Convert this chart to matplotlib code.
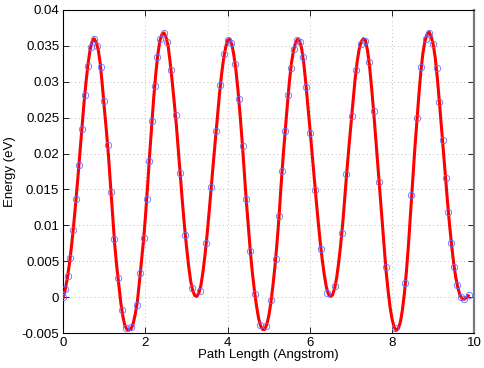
import matplotlib
matplotlib.use("Agg")
import matplotlib.pyplot as plt
from matplotlib.ticker import FuncFormatter

plt.rcParams['font.family'] = ['Liberation Sans', 'DejaVu Sans']
plt.rcParams['axes.unicode_minus'] = False

# Sampled energies (blue circles)
point_x = [0.00, 0.05, 0.11, 0.17, 0.24, 0.31, 0.38, 0.45, 0.52, 0.60,
           0.67, 0.75, 0.83, 0.91, 0.98, 1.08, 1.16, 1.24, 1.33, 1.42,
           1.53, 1.65, 1.79, 1.87, 1.96, 2.03, 2.09, 2.16, 2.22, 2.29,
           2.36, 2.44, 2.53, 2.62, 2.73, 2.84, 2.97, 3.14, 3.33, 3.48,
           3.60, 3.72, 3.82, 3.92, 4.01, 4.09, 4.18, 4.27, 4.36, 4.45,
           4.55, 4.66, 4.79, 4.93, 5.06, 5.17, 5.25, 5.32, 5.40, 5.47,
           5.53, 5.61, 5.69, 5.76, 5.83, 5.91, 6.01, 6.13, 6.27, 6.42,
           6.62, 6.78, 6.89, 7.02, 7.12, 7.24, 7.33, 7.44, 7.55, 7.68,
           7.84, 8.07, 8.32, 8.47, 8.61, 8.71, 8.82, 8.90, 9.00, 9.08,
           9.15, 9.23, 9.30, 9.37, 9.44, 9.51, 9.58, 9.67, 9.76, 9.86]
point_y = [0.0000, 0.0011, 0.0030, 0.0055, 0.0093, 0.0136, 0.0184, 0.0234, 0.0282, 0.0322,
           0.0349, 0.0359, 0.0350, 0.0320, 0.0273, 0.0212, 0.0146, 0.0081, 0.0027, -0.0018,
           -0.0043, -0.0042, -0.0011, 0.0033, 0.0082, 0.0136, 0.0190, 0.0245, 0.0294, 0.0334,
           0.0360, 0.0368, 0.0355, 0.0317, 0.0253, 0.0173, 0.0086, 0.0013, 0.0009, 0.0076,
           0.0154, 0.0231, 0.0295, 0.0338, 0.0358, 0.0354, 0.0325, 0.0276, 0.0210, 0.0136,
           0.0064, 0.0005, -0.0039, -0.0040, -0.0004, 0.0053, 0.0113, 0.0176, 0.0232, 0.0281,
           0.0319, 0.0345, 0.0358, 0.0356, 0.0335, 0.0292, 0.0229, 0.0149, 0.0067, 0.0006,
           0.0016, 0.0090, 0.0171, 0.0252, 0.0316, 0.0352, 0.0357, 0.0327, 0.0259, 0.0161,
           0.0042, -0.0043, 0.0019, 0.0142, 0.0249, 0.0321, 0.0360, 0.0368, 0.0352, 0.0319,
           0.0272, 0.0219, 0.0166, 0.0118, 0.0076, 0.0042, 0.0017, 0.0000, -0.0003, 0.0003]

# Fitted curve (red line), read every 0.05 Angstrom
curve_x = [0.00, 0.05, 0.10, 0.15, 0.20, 0.25, 0.30, 0.35, 0.40, 0.45, 0.50, 0.55, 0.60, 0.65, 0.70, 0.75,
           0.80, 0.85, 0.90, 0.95, 1.00, 1.05, 1.10, 1.15, 1.20, 1.25, 1.30, 1.35, 1.40, 1.45, 1.50, 1.55, 1.60,
           1.65, 1.70, 1.75, 1.80, 1.85, 1.90, 1.95, 2.00, 2.05, 2.10, 2.15, 2.20, 2.25, 2.30, 2.35, 2.40, 2.45,
           2.50, 2.55, 2.60, 2.65, 2.70, 2.75, 2.80, 2.85, 2.90, 2.95, 3.00, 3.05, 3.10, 3.15, 3.20, 3.25,
           3.30, 3.35, 3.40, 3.45, 3.50, 3.55, 3.60, 3.65, 3.70, 3.75, 3.80, 3.85, 3.90, 3.95, 4.00,
           4.05, 4.10, 4.15, 4.20, 4.25, 4.30, 4.35, 4.40, 4.45, 4.50, 4.55, 4.60, 4.65, 4.70, 4.75, 4.80, 4.85, 4.90,
           4.95, 5.00, 5.05, 5.10, 5.15, 5.20, 5.25, 5.30, 5.35, 5.40, 5.45, 5.50, 5.55, 5.60, 5.65, 5.70,
           5.75, 5.80, 5.85, 5.90, 5.95, 6.00, 6.05, 6.10, 6.15, 6.20, 6.25, 6.30, 6.35, 6.40, 6.45, 6.50,
           6.55, 6.60, 6.65, 6.70, 6.75, 6.80, 6.85, 6.90, 6.95, 7.00, 7.05, 7.10, 7.15, 7.20, 7.25, 7.30,
           7.35, 7.40, 7.45, 7.50, 7.55, 7.60, 7.65, 7.70, 7.75, 7.80, 7.85, 7.90, 7.95, 8.00, 8.05, 8.10,
           8.15, 8.20, 8.25, 8.30, 8.35, 8.40, 8.45, 8.50, 8.55, 8.60, 8.65, 8.70, 8.75, 8.80, 8.85, 8.90,
           8.95, 9.00, 9.05, 9.10, 9.15, 9.20, 9.25, 9.30, 9.35, 9.40, 9.45, 9.50, 9.55, 9.60, 9.65, 9.70,
           9.75, 9.80, 9.85]
curve_y = [0.0000, 0.0011, 0.0027, 0.0047, 0.0071, 0.0099, 0.0130, 0.0163, 0.0198, 0.0234, 0.0268, 0.0298,
           0.0324, 0.0344, 0.0356, 0.0360,
           0.0355, 0.0345, 0.0325, 0.0295, 0.0262, 0.0231, 0.0196, 0.0155, 0.0113, 0.0074, 0.0043, 0.0017,
           -0.0008, -0.0027, -0.0040, -0.0045, -0.0046,
           -0.0044, -0.0037, -0.0024, -0.0007, 0.0020, 0.0049, 0.0078, 0.0113, 0.0154, 0.0198, 0.0237,
           0.0278, 0.0311, 0.0338, 0.0357, 0.0366, 0.0368,
           0.0362, 0.0350, 0.0327, 0.0300, 0.0271, 0.0240, 0.0203, 0.0166, 0.0131, 0.0098, 0.0069, 0.0043,
           0.0022, 0.0009, 0.0002, 0.0001,
           0.0006, 0.0017, 0.0036, 0.0060, 0.0088, 0.0120, 0.0154, 0.0187, 0.0219, 0.0251, 0.0283, 0.0310,
           0.0332, 0.0348, 0.0358,
           0.0359, 0.0352, 0.0337, 0.0316, 0.0288, 0.0255, 0.0218, 0.0177, 0.0136, 0.0099, 0.0064, 0.0034,
           0.0009, -0.0012, -0.0029, -0.0040, -0.0045, -0.0045,
           -0.0038, -0.0026, -0.0008, 0.0016, 0.0043, 0.0076, 0.0113, 0.0157, 0.0197, 0.0232, 0.0267, 0.0300,
           0.0326, 0.0343, 0.0354, 0.0359,
           0.0357, 0.0346, 0.0326, 0.0298, 0.0267, 0.0235, 0.0202, 0.0169, 0.0137, 0.0106, 0.0077, 0.0052,
           0.0031, 0.0014, 0.0004, 0.0001,
           0.0003, 0.0012, 0.0027, 0.0048, 0.0074, 0.0104, 0.0140, 0.0176, 0.0210, 0.0242, 0.0273, 0.0304,
           0.0328, 0.0346, 0.0356, 0.0360,
           0.0358, 0.0344, 0.0322, 0.0292, 0.0259, 0.0222, 0.0184, 0.0146, 0.0109, 0.0072, 0.0038, 0.0010,
           -0.0014, -0.0031, -0.0042, -0.0046,
           -0.0044, -0.0035, -0.0018, 0.0006, 0.0037, 0.0075, 0.0119, 0.0163, 0.0205, 0.0244, 0.0281, 0.0315,
           0.0340, 0.0357, 0.0366, 0.0369,
           0.0363, 0.0352, 0.0333, 0.0305, 0.0272, 0.0237, 0.0203, 0.0166, 0.0131, 0.0099, 0.0071, 0.0046,
           0.0027, 0.0013, 0.0003, -0.0002, -0.0003, -0.0001, 0.0002]

x_ticks = [0, 2, 4, 6, 8, 10]
y_ticks = [-0.005, 0, 0.005, 0.01, 0.015, 0.02, 0.025, 0.03, 0.035, 0.04]
x_label = "Path Length (Angstrom)"
y_label = "Energy (eV)"

fig = plt.figure(figsize=(4.85, 3.68), dpi=100)
ax = fig.add_axes([0.1305, 0.095, 0.8475, 0.878])

ax.plot(curve_x, curve_y, color='#ff0000', linewidth=2.2, zorder=3)
ax.plot(point_x, point_y, linestyle='none', marker='o', markersize=4.6,
        markerfacecolor='none', markeredgecolor='#6b6bff', markeredgewidth=0.6, zorder=4)

ax.set_xlim(0, 10)
ax.set_ylim(-0.005, 0.04)
ax.set_xticks(x_ticks)
ax.set_yticks(y_ticks)
ax.yaxis.set_major_formatter(FuncFormatter(lambda v, p: ('%g' % round(v, 4))))
ax.xaxis.set_major_formatter(FuncFormatter(lambda v, p: ('%g' % v)))

ax.grid(True, color='#bdbdbd', linestyle=(0, (1, 3)), linewidth=0.7)
ax.set_axisbelow(True)
ax.tick_params(direction='in', length=4, width=0.6, top=True, right=True,
               labelsize=9.5, pad=3)
for s in ax.spines.values():
    s.set_linewidth(0.8)
ax.spines['right'].set_color('#7a7a7a')
ax.spines['right'].set_linewidth(1.6)

ax.set_xlabel(x_label, fontsize=9.5, labelpad=0)
ax.set_ylabel(y_label, fontsize=9.5, labelpad=4)

fig.savefig("out.png", dpi=100)
